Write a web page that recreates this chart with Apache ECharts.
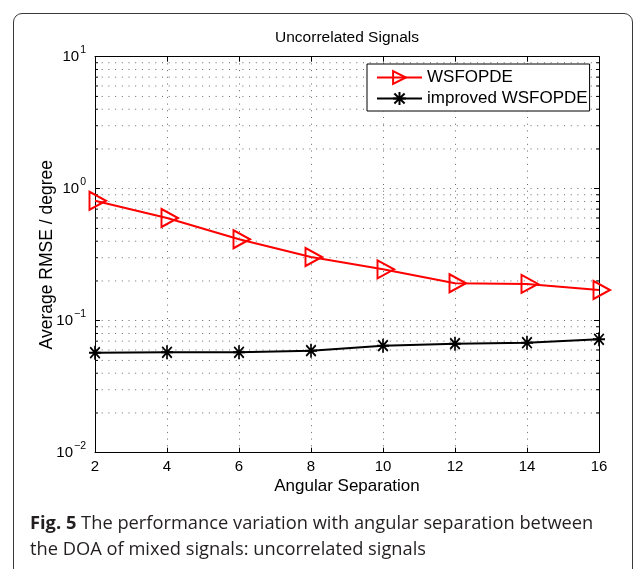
<!DOCTYPE html>
<html>
<head>
<meta charset="utf-8">
<script src="https://cdn.jsdelivr.net/npm/echarts@6/dist/echarts.min.js"></script>
<style>
  html, body { margin: 0; padding: 0; background: #fff; }
  #page { position: relative; width: 635px; height: 569px; overflow: hidden; background: #fff; }
  #card { position: absolute; left: 13px; top: 13px; width: 620px; height: 600px;
          border: 1px solid #3a3a3a; border-radius: 9px; box-sizing: border-box; }
  #chart { position: absolute; left: 0; top: 0; width: 635px; height: 569px; }
  #caption { position: absolute; left: 30px; top: 509px; width: 600px; white-space: nowrap;
             font-family: "Open Sans", sans-serif; font-size: 18.3px; line-height: 26px;
             color: #231f20; }
  #caption b { font-weight: 700; }
</style>
</head>
<body>
<div id="page">
  <div id="card"></div>
  <div id="chart"></div>
  <div id="caption"><b>Fig. 5</b> The performance variation with angular separation between<br>the DOA of mixed signals: uncorrelated signals</div>
</div>
<script>
// Angular separation (degrees) on the x axis
const separation = [2, 4, 6, 8, 10, 12, 14, 16];
// Average RMSE (degree) for each method
const wsfopde = [0.81, 0.60, 0.414, 0.304, 0.245, 0.192, 0.19, 0.171];
const improvedWsfopde = [0.0572, 0.0576, 0.0576, 0.0593, 0.0647, 0.067, 0.0681, 0.0723];
// Log-axis decades and the minor grid values between them
const yDecades = [0.01, 0.1, 1, 10];
const yMinor = [0.02, 0.03, 0.04, 0.05, 0.06, 0.07, 0.08, 0.09,
                0.2, 0.3, 0.4, 0.5, 0.6, 0.7, 0.8, 0.9,
                2, 3, 4, 5, 6, 7, 8, 9];
const seriesNames = ['WSFOPDE', 'improved WSFOPDE'];

const FONT = '"Liberation Sans", Arial, Helvetica, sans-serif';
const DOT = [1, 5.7];
const GRIDCOLOR = '#666';

const pairs = (xs, ys) => xs.map((x, i) => [x, ys[i]]);
const xMin = separation[0], xMax = separation[separation.length - 1];

// right-pointing open triangle and eight-ray asterisk markers
const triPath = 'path://M0,0 L16.5,9 L0,18 Z';
const starPath = 'path://M6,0 L6,14 M0,7 L12,7 M1.2,1.6 L10.8,12.4 M10.8,1.6 L1.2,12.4';

const chart = echarts.init(document.getElementById('chart'), null, { renderer: 'canvas' });

const supLabel = v => {
  const e = Math.round(Math.log10(v));
  return '{b|10}{e|' + (e < 0 ? '\u2212' + (-e) : e) + '}';
};

const option = {
  animation: false,
  textStyle: { fontFamily: FONT },
  title: {
    text: 'Uncorrelated Signals',
    left: 347, top: 30, padding: 0,
    textAlign: 'center',
    textStyle: { fontFamily: FONT, fontSize: 15.5, fontWeight: 'normal', color: '#000' }
  },
  grid: { left: 95, right: 36, top: 56.7, bottom: 116.3, containLabel: false },
  legend: {
    orient: 'vertical',
    left: 367, top: 64,
    data: seriesNames,
    itemWidth: 45, itemHeight: 16, itemGap: 4,
    padding: [5, 2, 4, 9],
    borderColor: '#000', borderWidth: 1, backgroundColor: '#fff',
    textStyle: { fontFamily: FONT, fontSize: 17, color: '#000' }
  },
  xAxis: [{
    type: 'value', min: xMin, max: xMax, interval: 2,
    name: 'Angular Separation', nameLocation: 'middle', nameGap: 25,
    nameMoveOverlap: false,
    nameTextStyle: { fontFamily: FONT, fontSize: 17, color: '#000' },
    axisLine: { show: true, onZero: false, lineStyle: { color: '#000', width: 1 } },
    axisTick: { show: true, inside: true, length: 5, lineStyle: { color: '#000' } },
    axisLabel: { fontFamily: FONT, fontSize: 15, color: '#000', margin: 7 },
    splitLine: { show: true, lineStyle: { color: GRIDCOLOR, type: DOT, width: 1 } }
  }, {
    type: 'value', min: xMin, max: xMax, interval: 2, position: 'top',
    axisLine: { show: true, onZero: false, lineStyle: { color: '#000', width: 1 } },
    axisTick: { show: true, inside: true, length: 5, lineStyle: { color: '#000' } },
    axisLabel: { show: false },
    splitLine: { show: false }
  }],
  yAxis: [{
    type: 'log', logBase: 10, min: yDecades[0], max: yDecades[yDecades.length - 1],
    name: 'Average RMSE / degree', nameLocation: 'middle', nameGap: 39,
    nameMoveOverlap: false,
    nameTextStyle: { fontFamily: FONT, fontSize: 17.5, color: '#000' },
    axisLine: { show: true, onZero: false, lineStyle: { color: '#000', width: 1 } },
    axisTick: { show: true, inside: true, length: 5, lineStyle: { color: '#000' } },
    axisLabel: {
      margin: 9, color: '#000',
      formatter: supLabel,
      rich: {
        b: { fontFamily: FONT, fontSize: 15, color: '#000', verticalAlign: 'bottom', lineHeight: 15 },
        e: { fontFamily: FONT, fontSize: 10.5, color: '#000', verticalAlign: 'bottom', lineHeight: 10, padding: [0, 0, 9, 1] }
      }
    },
    splitLine: { show: true, lineStyle: { color: GRIDCOLOR, type: DOT, width: 1 } }
  }, {
    type: 'log', logBase: 10, min: yDecades[0], max: yDecades[yDecades.length - 1], position: 'right',
    axisLine: { show: true, onZero: false, lineStyle: { color: '#000', width: 1 } },
    axisTick: { show: true, inside: true, length: 5, lineStyle: { color: '#000' } },
    axisLabel: { show: false },
    splitLine: { show: false }
  }],
  series: [{
    // minor log grid lines with short inside ticks on both vertical axes
    type: 'custom',
    silent: true,
    z: 1,
    xAxisIndex: 0, yAxisIndex: 0,
    data: yMinor.map(v => [xMin, v]),
    renderItem: (params, api) => {
      const v = api.value(1);
      const l = api.coord([xMin, v]);
      const r = api.coord([xMax, v]);
      return {
        type: 'group',
        children: [
          { type: 'line', shape: { x1: l[0], y1: l[1], x2: r[0], y2: r[1] },
            style: { stroke: GRIDCOLOR, lineWidth: 1, lineDash: DOT } },
          { type: 'line', shape: { x1: l[0], y1: l[1], x2: l[0] + 3, y2: l[1] },
            style: { stroke: '#000', lineWidth: 1 } },
          { type: 'line', shape: { x1: r[0] - 3, y1: r[1], x2: r[0], y2: r[1] },
            style: { stroke: '#000', lineWidth: 1 } }
        ]
      };
    }
  }, {
    name: seriesNames[0],
    type: 'line',
    z: 3,
    data: pairs(separation, wsfopde),
    lineStyle: { color: '#ff0000', width: 2 },
    symbol: triPath,
    symbolSize: [16.5, 18],
    symbolOffset: [2.75, 0],
    symbolKeepAspect: false,
    itemStyle: { color: 'rgba(255,255,255,0)', borderColor: '#ff0000', borderWidth: 2 },
    showAllSymbol: true,
    clip: false
  }, {
    name: seriesNames[1],
    type: 'line',
    z: 3,
    data: pairs(separation, improvedWsfopde),
    lineStyle: { color: '#000', width: 2 },
    symbol: starPath,
    symbolSize: [12, 14],
    itemStyle: { color: 'rgba(255,255,255,0)', borderColor: '#000', borderWidth: 1.8 },
    showAllSymbol: true,
    clip: false
  }]
};

chart.setOption(option);
</script>
</body>
</html>
